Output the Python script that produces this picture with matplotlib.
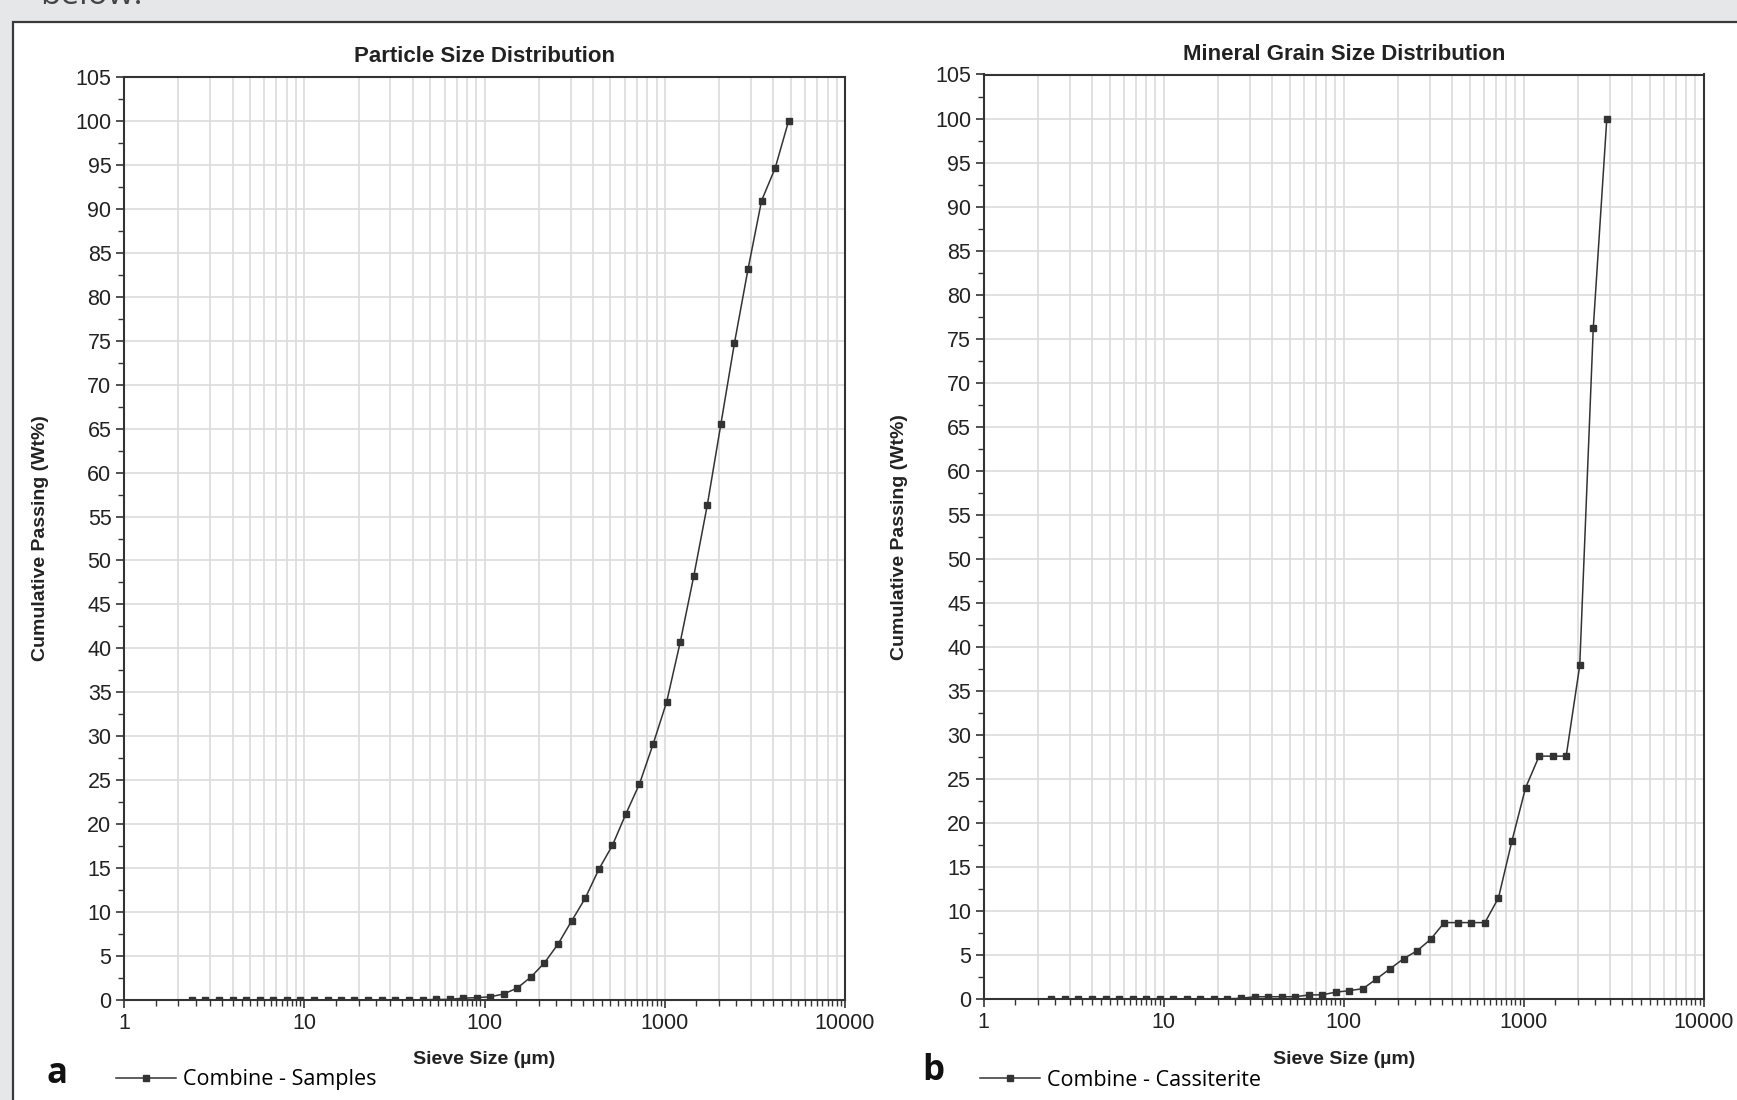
import numpy as np
import matplotlib
matplotlib.use("Agg")
import matplotlib.pyplot as plt
from matplotlib.patches import Rectangle
from matplotlib.ticker import FixedLocator, NullFormatter

# ---- data ----
sieve_a = [2.38, 2.83, 3.36, 4.0, 4.76, 5.66, 6.73, 8.0, 9.51, 11.3, 13.5, 16.0, 19.0,
           22.6, 26.9, 32.0, 38.0, 45.3, 53.8, 64.0, 76.0, 90.5, 107.6, 128, 152, 181,
           215, 256, 304, 362, 431, 512, 609, 724, 861, 1024, 1218, 1448, 1722, 2048,
           2435, 2896, 3444, 4096, 4871]
passing_a = [0.05, 0.05, 0.05, 0.05, 0.05, 0.05, 0.05, 0.05, 0.05, 0.05, 0.05, 0.05, 0.05,
             0.05, 0.05, 0.05, 0.05, 0.05, 0.1, 0.1, 0.25, 0.3, 0.4, 0.72, 1.4, 2.65,
             4.25, 6.4, 9.0, 11.6, 14.9, 17.6, 21.2, 24.6, 29.1, 33.9, 40.7, 48.2, 56.3, 65.5,
             74.7, 83.1, 90.9, 94.6, 100.0]

sieve_b = [2.38, 2.83, 3.36, 4.0, 4.76, 5.66, 6.73, 8.0, 9.51, 11.3, 13.5, 16.0, 19.0,
           22.6, 26.9, 32.0, 38.0, 45.3, 53.8, 64.0, 76.0, 90.5, 107.6, 128, 152, 181,
           215, 256, 304, 362, 431, 512, 609, 724, 861, 1024, 1218, 1448, 1722, 2048,
           2435, 2896]
passing_b = [0.05, 0.05, 0.05, 0.05, 0.05, 0.05, 0.05, 0.05, 0.05, 0.05, 0.05, 0.05, 0.05,
             0.05, 0.1, 0.28, 0.28, 0.28, 0.28, 0.48, 0.5, 0.8, 0.97, 1.2, 2.3, 3.45,
             4.6, 5.5, 6.8, 8.7, 8.7, 8.7, 8.7, 11.5, 18.0, 24.0, 27.6, 27.6, 27.6, 37.9,
             76.2, 100.0]

titles = ["Particle Size Distribution", "Mineral Grain Size Distribution"]
series_names = ["Combine - Samples", "Combine - Cassiterite"]
panel_tags = ["a", "b"]
xtick_vals = [1, 10, 100, 1000, 10000]
ytick_vals = list(range(0, 106, 5))

NARROW = ["Liberation Sans Narrow", "Liberation Sans", "DejaVu Sans"]
PLAIN = ["Open Sans", "DejaVu Sans"]
INK = "#333333"
GRID = "#dcdcdc"
BG = "#e6e7e9"

W, H = 1737, 1100
fig = plt.figure(figsize=(W / 100, H / 100), dpi=100, facecolor=BG)

# white screenshot panel with dark frame (behind the axes)
fig.patches.append(Rectangle((13 / W, -0.05), 1.1, 1 - 22 / H + 0.05, transform=fig.transFigure,
                             facecolor="white", edgecolor="#3a3a3a", lw=1.6, zorder=-10))
# caption line from the page above, mostly cut off by the crop
fig.text(40 / W, 1 + 4 / H, "below.", fontsize=24, color="#444444", family=PLAIN,
         ha="left", va="center")

# axes boxes in pixels: left, top, right, bottom
boxes = [(124, 76.7, 845, 1000.3), (983.7, 74.5, 1703.7, 999.2)]
ylabel_x = [49, 908.4]
legend_pos = [(116, 1080), (980, 1080)]
tag_pos = [(57, 1074), (933, 1071)]
data = [(sieve_a, passing_a), (sieve_b, passing_b)]

for i, (l, t, r, b) in enumerate(boxes):
    ax = fig.add_axes([l / W, 1 - b / H, (r - l) / W, (b - t) / H])
    xs, ys = data[i]
    line, = ax.plot(xs, ys, color=INK, lw=1.1, marker="s", ms=4, mfc=INK, mec=INK, zorder=3)
    ax.set_xscale("log")
    ax.set_xlim(1, 10000)
    ax.set_ylim(0, 105)

    # ticks: majors at decades, minors every half-unit of each decade
    minor_ticks = [m * 10 ** d for d in range(4) for m in np.arange(1.5, 10, 0.5)]
    ax.xaxis.set_major_locator(FixedLocator(xtick_vals))
    ax.xaxis.set_minor_locator(FixedLocator(minor_ticks))
    ax.xaxis.set_minor_formatter(NullFormatter())
    ax.set_xticklabels([str(v) for v in xtick_vals])
    ax.yaxis.set_major_locator(FixedLocator(ytick_vals))
    ax.yaxis.set_minor_locator(FixedLocator([v + 2.5 for v in ytick_vals[:-1]]))
    ax.tick_params(which="major", direction="out", length=6, width=1.2, color=INK,
                   labelsize=15.5, labelcolor="#222222", pad=3)
    ax.tick_params(which="minor", direction="out", length=4, width=1.0, color=INK)
    for lab in ax.get_xticklabels() + ax.get_yticklabels():
        lab.set_family(NARROW)

    # grid: decades + 2..9 vertically, every 5 horizontally
    ax.grid(True, which="major", color=GRID, lw=1.2, zorder=0)
    for d in range(4):
        for m in range(2, 10):
            ax.axvline(m * 10 ** d, color=GRID, lw=1.2, zorder=0)
    for s in ax.spines.values():
        s.set_color(INK)
        s.set_linewidth(1.5)
    ax.set_axisbelow(True)

    ax.text(0.5, 1 + 20 / (b - t), titles[i], transform=ax.transAxes, ha="center",
            va="center", fontsize=16, fontweight="bold", family=NARROW, color="#222222")
    ax.set_ylabel("Cumulative Passing (Wt%)", fontsize=14, fontweight="bold",
                  family=NARROW, color="#222222")
    ax.yaxis.set_label_coords((ylabel_x[i] - l) / (r - l), 0.5)
    ax.set_xlabel("Sieve Size (µm)", fontsize=14, fontweight="bold", family=NARROW,
                  color="#222222", va="center")
    ax.xaxis.set_label_coords(0.5, -(1059 - b) / (b - t))

    lx, ly = legend_pos[i]
    fig.legend(handles=[line], labels=[series_names[i]], loc="center left",
               bbox_to_anchor=(lx / W, 1 - ly / H), frameon=False,
               handlelength=2.8, handletextpad=0.3, borderpad=0, borderaxespad=0,
               prop={"family": PLAIN, "size": 15.5})
    tx, ty = tag_pos[i]
    fig.text(tx / W, 1 - ty / H, panel_tags[i], fontsize=25, fontweight="bold",
             family=PLAIN, ha="center", va="center", color="#111111")

fig.savefig("out.png", dpi=100, facecolor=BG)
